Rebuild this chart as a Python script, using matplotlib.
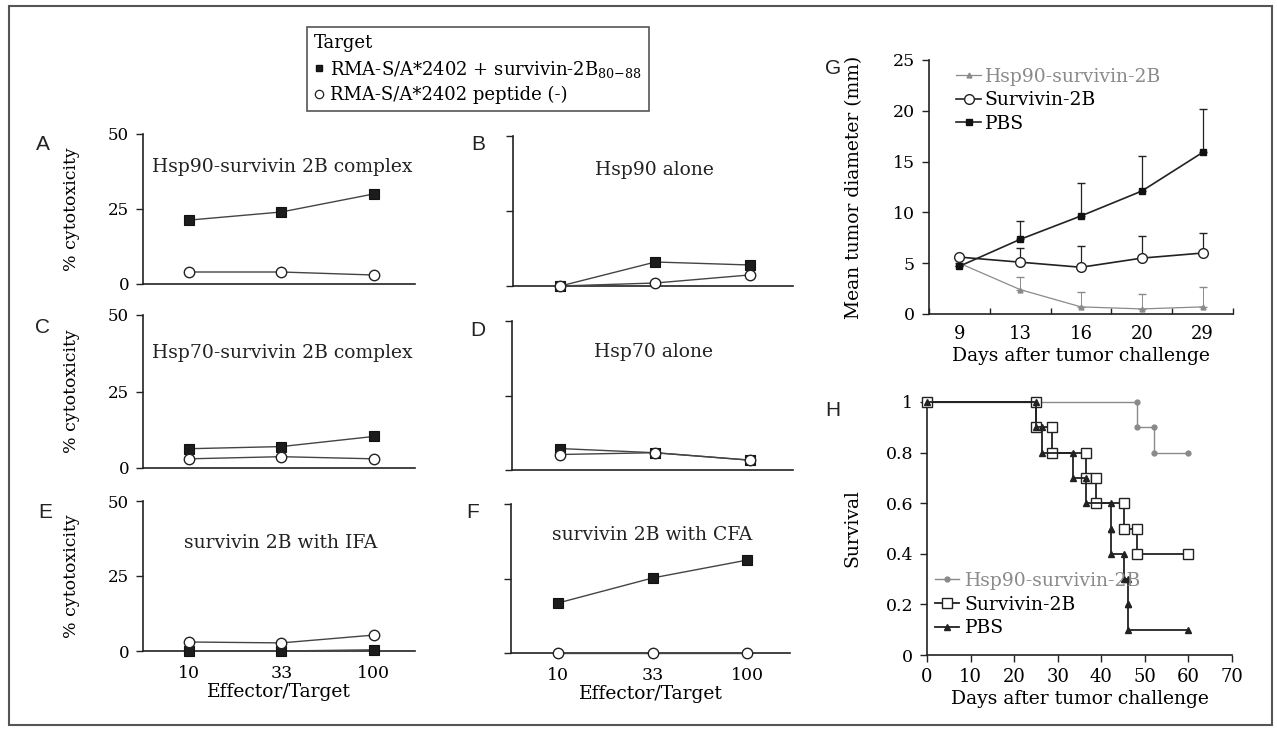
import matplotlib
matplotlib.use("Agg")
import matplotlib.pyplot as plt
from matplotlib.lines import Line2D
from matplotlib.patches import Rectangle

plt.rcParams['font.family'] = ['DejaVu Serif']
plt.rcParams['mathtext.fontset'] = 'dejavuserif'

#DATA - cytotoxicity panels (% at E/T ratio)
et_labels = ["10", "33", "100"]
A_pep = [21.3, 24.0, 30.0]
A_neg = [4.0, 4.0, 3.0]
B_pep = [0.0, 8.0, 7.0]
B_neg = [0.0, 1.0, 3.7]
C_pep = [6.3, 7.0, 10.3]
C_neg = [3.0, 3.7, 3.0]
D_pep = [7.2, 5.8, 3.3]
D_neg = [5.2, 5.8, 3.3]
E_pep = [0.0, 0.0, 0.4]
E_neg = [3.0, 2.7, 5.3]
F_pep = [16.8, 25.2, 31.2]
F_neg = [0.0, 0.0, 0.0]

#DATA - tumor diameter (G)
days = ["9", "13", "16", "20", "29"]
hsp90_mean = [5.0, 2.4, 0.7, 0.5, 0.7]
hsp90_err = [0.0, 1.2, 1.5, 1.5, 2.0]
surv_mean = [5.6, 5.1, 4.6, 5.5, 6.0]
surv_err = [0.0, 1.35, 2.1, 2.2, 2.0]
pbs_mean = [4.7, 7.35, 9.65, 12.1, 15.9]
pbs_err = [0.0, 1.85, 3.25, 3.45, 4.3]

#DATA - survival (H), death days, 10 mice per group, followed to day 60
hsp90_deaths = [48.3, 52.1]
surv_deaths = [25, 28.6, 36.5, 38.8, 45.3, 48.3]
pbs_deaths = [25, 26.5, 33.4, 36.5, 42.2, 42.2, 45.3, 46.2, 46.2]
n_mice = 10
end_day = 60

W, H = 1277, 734
fig = plt.figure(figsize=(W / 100, H / 100), dpi=100)
fig.patch.set_facecolor('white')


def rect(l, t, r, b):
    return [l / W, 1 - b / H, (r - l) / W, (b - t) / H]


def fx(x):
    return x / W


def fy(y):
    return 1 - y / H


ink = '#222222'
grey = '#8a8a8a'

# outer frame
fig.patches.append(Rectangle((fx(9), fy(725)), fx(1272) - fx(9), fy(6) - fy(725),
                             transform=fig.transFigure, fill=False, lw=1.5, ec='#555555'))

sq = dict(marker='s', ms=6.5, mfc='#1c1c1c', mec='#111111', mew=0.8, color='#444444', lw=1.0)
ci = dict(marker='o', ms=7.5, mfc='white', mec=ink, mew=1.0, color='#444444', lw=1.0)

panels = [
    ("A", rect(143, 134, 415, 284), A_pep, A_neg, "Hsp90-survivin 2B complex", True, False, (43, 145), (282, 167)),
    ("B", rect(513, 136, 793, 286), B_pep, B_neg, "Hsp90 alone", False, False, (478, 145), (654, 170)),
    ("C", rect(143, 315, 415, 468), C_pep, C_neg, "Hsp70-survivin 2B complex", True, False, (43, 328), (282, 353)),
    ("D", rect(512, 321, 793, 470), D_pep, D_neg, "Hsp70 alone", False, False, (478, 330), (653, 352)),
    ("E", rect(143, 501, 415, 651), E_pep, E_neg, "survivin 2B with IFA", True, True, (45, 512), (281, 543)),
    ("F", rect(511, 504, 790, 653), F_pep, F_neg, "survivin 2B with CFA", False, True, (473, 513), (652, 535)),
]

for letter, r, pep, neg, title, left_col, bottom_row, lpos, tpos in panels:
    ax = fig.add_axes(r)
    ax.plot(range(3), pep, clip_on=False, zorder=3, **sq)
    ax.plot(range(3), neg, clip_on=False, zorder=4, **ci)
    ax.set_ylim(0, 50)
    ax.set_xlim(-0.5, 2.45)
    for s in ['top', 'right']:
        ax.spines[s].set_visible(False)
    for s in ['left', 'bottom']:
        ax.spines[s].set_linewidth(1.2)
        ax.spines[s].set_color(ink)
    ax.set_yticks([0, 25, 50])
    ax.tick_params(axis='y', direction='out', length=5, width=1, color=ink, labelsize=12, pad=5)
    if not left_col:
        ax.set_yticklabels([])
    else:
        ax.set_ylabel("% cytotoxicity", fontsize=12.5)
        ax.yaxis.set_label_coords(-0.23, 0.5)
    ax.set_xticks(range(3))
    if bottom_row:
        ax.set_xticklabels(et_labels)
        ax.tick_params(axis='x', length=0, labelsize=12.5, pad=10)
        ax.set_xlabel("Effector/Target", fontsize=13.5, labelpad=1)
    else:
        ax.tick_params(axis='x', length=0, labelbottom=False)
    ax.patch.set_alpha(0)
    fig.text(fx(lpos[0]), fy(lpos[1]), letter, family='Liberation Sans', fontsize=15,
             ha='center', va='center', color=ink)
    fig.text(fx(tpos[0]), fy(tpos[1]), title, fontsize=13.5, ha='center', va='center', color=ink)

# top legend for panels A-F
h_pep = Line2D([], [], ls='none', marker='s', ms=5, mfc='#1c1c1c', mec='#111111')
h_neg = Line2D([], [], ls='none', marker='o', ms=6, mfc='white', mec=ink, mew=0.9)
leg = fig.legend([h_pep, h_neg],
                 ["RMA-S/A*2402 + survivin-2B$_{80\\mathrm{-}88}$", "RMA-S/A*2402 peptide (-)"],
                 title="Target", loc='upper left', bbox_to_anchor=(fx(307), fy(27)),
                 alignment='left', fancybox=False, edgecolor='#555555', framealpha=1,
                 fontsize=13, title_fontsize=13, handlelength=0.5, handletextpad=0.4,
                 borderpad=0.4, labelspacing=0.35, borderaxespad=0)
leg.get_frame().set_linewidth(1.2)

# G: mean tumor diameter
axg = fig.add_axes(rect(929, 60, 1233, 314))
xg = list(range(len(days)))
eb_h = axg.errorbar(xg, hsp90_mean, yerr=[[0] * 5, hsp90_err], color=grey, lw=0.9,
                    marker='^', ms=3.5, mfc=grey, mec=grey, elinewidth=0.7, capsize=3, clip_on=False)
eb_s = axg.errorbar(xg, surv_mean, yerr=[[0] * 5, surv_err], color=ink, lw=1.2,
                    marker='o', ms=7, mfc='white', mec=ink, elinewidth=0.9, capsize=3, clip_on=False, zorder=4)
eb_p = axg.errorbar(xg, pbs_mean, yerr=[[0] * 5, pbs_err], color=ink, lw=1.2,
                    marker='s', ms=5, mfc='#111111', mec='#111111', elinewidth=0.9, capsize=3, clip_on=False, zorder=3)
axg.set_xlim(-0.5, 4.5)
axg.set_ylim(0, 25)
axg.set_yticks([0, 5, 10, 15, 20, 25])
axg.set_xticks([i - 0.5 for i in range(6)])
axg.set_xticklabels([])
axg.set_xticks(xg, labels=days, minor=True)
axg.tick_params(axis='x', which='major', direction='in', length=4, width=1, color=ink)
axg.tick_params(axis='x', which='minor', length=0, labelsize=13, pad=8)
axg.tick_params(axis='y', direction='out', length=5, width=1, color=ink, labelsize=12.5, pad=5)
for s in ['top', 'right']:
    axg.spines[s].set_visible(False)
for s in ['left', 'bottom']:
    axg.spines[s].set_linewidth(1.2)
    axg.spines[s].set_color(ink)
axg.set_ylabel("Mean tumor diameter (mm)", fontsize=13.5)
axg.yaxis.set_label_coords(-0.217, 0.5)
axg.set_xlabel("Days after tumor challenge", fontsize=13.5, labelpad=3)
lg = axg.legend([eb_h[0], eb_s[0], eb_p[0]], ["Hsp90-survivin-2B", "Survivin-2B", "PBS"],
                loc='upper left', bbox_to_anchor=(0.09, 0.97), frameon=False, fontsize=13.5,
                handlelength=1.3, handletextpad=0.2, labelspacing=0.3, borderaxespad=0, borderpad=0)
lg.get_texts()[0].set_color(grey)
axg.patch.set_alpha(0)
fig.text(fx(833), fy(68), "G", family='Liberation Sans', fontsize=15, ha='center', va='center', color=ink)


# H: survival
def km_steps(deaths):
    t = [0]
    s = [1.0]
    cur = 1.0
    for d in deaths:
        t.append(d)
        s.append(cur)
        cur = round(cur - 1.0 / n_mice, 3)
        t.append(d)
        s.append(cur)
    t.append(end_day)
    s.append(cur)
    return t, s


axh = fig.add_axes(rect(927, 402, 1232, 655))
th, sh = km_steps(hsp90_deaths)
ts, ss = km_steps(surv_deaths)
tp, sp = km_steps(pbs_deaths)
lh, = axh.plot(th, sh, color=grey, lw=1.0, marker='o', ms=3.5, mfc=grey, mec=grey, clip_on=False)
ls_, = axh.plot(ts, ss, color=ink, lw=1.3, marker='s', ms=6.5, mfc='white', mec=ink, mew=1.0,
                clip_on=False, zorder=3)
lp, = axh.plot(tp, sp, color=ink, lw=1.3, marker='^', ms=4, mfc=ink, mec=ink, clip_on=False, zorder=4)
axh.set_xlim(0, 70)
axh.set_ylim(0, 1)
axh.set_xticks(range(0, 71, 10))
axh.set_yticks([0, 0.2, 0.4, 0.6, 0.8, 1.0])
axh.set_yticklabels(["0", "0.2", "0.4", "0.6", "0.8", "1"])
axh.tick_params(axis='x', direction='out', length=5, width=1, color=ink, labelsize=13, pad=4)
axh.tick_params(axis='y', direction='out', length=5, width=1, color=ink, labelsize=12.5, pad=5)
for s in ['top', 'right']:
    axh.spines[s].set_visible(False)
for s in ['left', 'bottom']:
    axh.spines[s].set_linewidth(1.2)
    axh.spines[s].set_color(ink)
axh.set_ylabel("Survival", fontsize=13.5)
axh.yaxis.set_label_coords(-0.214, 0.5)
axh.set_xlabel("Days after tumor challenge", fontsize=13.5, labelpad=3)
lg2 = axh.legend([lh, ls_, lp], ["Hsp90-survivin-2B", "Survivin-2B", "PBS"],
                 loc='lower left', bbox_to_anchor=(0.025, 0.07), frameon=False, fontsize=13.5,
                 handlelength=1.3, handletextpad=0.3, labelspacing=0.3, borderaxespad=0, borderpad=0)
lg2.get_texts()[0].set_color(grey)
axh.patch.set_alpha(0)
fig.text(fx(833), fy(410), "H", family='Liberation Sans', fontsize=15, ha='center', va='center', color=ink)

fig.savefig("out.png", dpi=100, facecolor='white')
